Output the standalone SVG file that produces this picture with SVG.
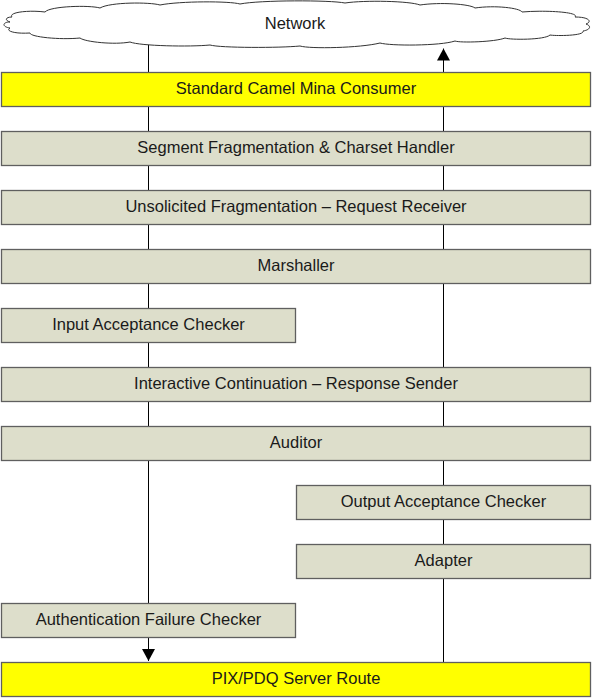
<svg xmlns="http://www.w3.org/2000/svg" width="592" height="698" viewBox="0 0 592 698">
<style>
.box{fill:#dddecb;stroke:#5f5f5f;stroke-width:1.3}
.yel{fill:#ffff00;stroke:#5f5f5f;stroke-width:1.3}
.t{font-family:"Liberation Sans",Arial,sans-serif;font-size:16.5px;fill:#1a1a1a;text-anchor:middle}
.ln{stroke:#000;stroke-width:1;fill:none}
</style>
<defs>
<marker id="ah" viewBox="0 0 12 13" refX="12" refY="6.5" markerWidth="12" markerHeight="13" markerUnits="userSpaceOnUse" orient="auto">
<path d="M0,0 L12,6.5 L0,13 Z" fill="#000"/>
</marker>
</defs>
<g id="connectors">
<path class="ln" d="M148.5,44 V661" marker-end="url(#ah)"/>
<path class="ln" d="M443.5,662 V48.5" marker-end="url(#ah)"/>
</g>
<g id="network">
<path d="M12,17 C8,12 30,10 45,12 C50,6 90,5 100,8 C110,2 150,2 160,5 C180,1 230,1 240,4 C260,0 330,0 345,3 C365,0 410,1 420,5 C440,2 470,4 475,8 C495,5 520,8 522,12 C545,10 580,12 575,17 C590,17 592,22 586,24 C592,26 590,30 583,31 C585,36 555,36 550,35 C545,40 510,40 505,38 C495,42 460,43 455,41 C440,46 390,46 380,43 C360,48 310,49 300,46 C280,48 220,48 210,45 C190,47 140,46 130,42 C115,45 85,42 80,38 C60,40 30,37 30,33 C15,34 5,31 10,28 C2,27 2,22 10,22 C4,20 6,17 12,17 Z" fill="#fff" stroke="#333" stroke-width="1"/>
<text class="t" x="295" y="28.5">Network</text>
</g>
<g id="consumer"><rect class="yel" x="1.5" y="72.5" width="589" height="34"/><text class="t" x="296" y="93.5">Standard Camel Mina Consumer</text></g>
<g id="segment"><rect class="box" x="1.5" y="131.5" width="589" height="34"/><text class="t" x="296" y="152.5">Segment Fragmentation &amp; Charset Handler</text></g>
<g id="unsolicited"><rect class="box" x="1.5" y="190.5" width="589" height="34"/><text class="t" x="296" y="211.5">Unsolicited Fragmentation – Request Receiver</text></g>
<g id="marshaller"><rect class="box" x="1.5" y="249.5" width="589" height="34"/><text class="t" x="296" y="270.5">Marshaller</text></g>
<g id="input"><rect class="box" x="1.5" y="308.5" width="294" height="34"/><text class="t" x="148.5" y="329.5">Input Acceptance Checker</text></g>
<g id="interactive"><rect class="box" x="1.5" y="367.5" width="589" height="34"/><text class="t" x="296" y="388.5">Interactive Continuation – Response Sender</text></g>
<g id="auditor"><rect class="box" x="1.5" y="426.5" width="589" height="34"/><text class="t" x="296" y="447.5">Auditor</text></g>
<g id="output"><rect class="box" x="296.5" y="485.5" width="294" height="34"/><text class="t" x="443.5" y="506.5">Output Acceptance Checker</text></g>
<g id="adapter"><rect class="box" x="296.5" y="544.5" width="294" height="34"/><text class="t" x="443.5" y="565.5">Adapter</text></g>
<g id="auth"><rect class="box" x="1.5" y="603.5" width="294" height="34"/><text class="t" x="148.5" y="624.5">Authentication Failure Checker</text></g>
<g id="route"><rect class="yel" x="1.5" y="662.5" width="589" height="34"/><text class="t" x="296" y="683.5">PIX/PDQ Server Route</text></g>
</svg>
